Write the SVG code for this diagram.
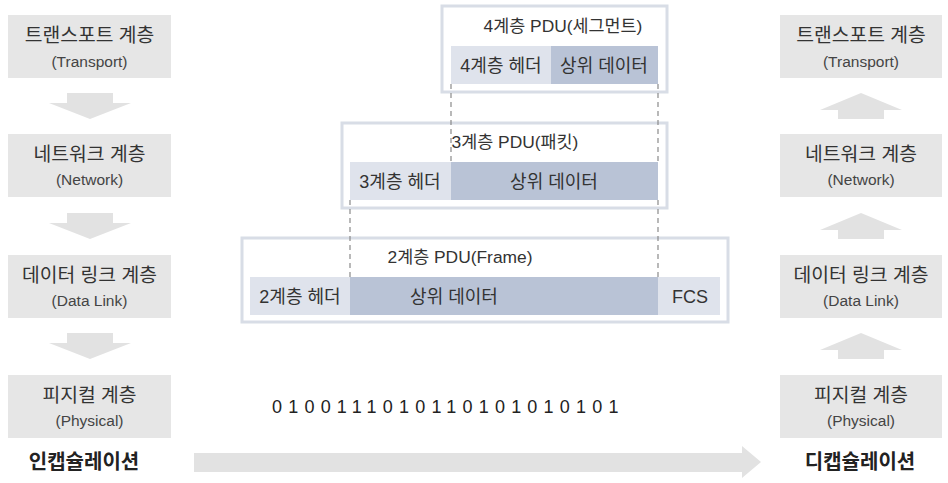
<svg xmlns="http://www.w3.org/2000/svg" width="948" height="483" viewBox="0 0 948 483">
<defs>
<style>
.layer{fill:#e6e6e6}
.arr{fill:#e2e2e2}
.kt{font-family:"Liberation Sans","Noto Sans CJK KR",sans-serif;font-size:19.3px;fill:#333;text-anchor:middle}
.et{font-family:"Liberation Sans","Noto Sans CJK KR",sans-serif;font-size:15.5px;fill:#444;text-anchor:middle}
.pt{font-family:"Liberation Sans","Noto Sans CJK KR",sans-serif;font-size:18px;fill:#333;text-anchor:middle}
.ptt{font-family:"Liberation Sans","Noto Sans CJK KR",sans-serif;font-size:17.4px;fill:#333;text-anchor:middle}
.lab{font-family:"Liberation Sans","Noto Sans CJK KR",sans-serif;font-size:20px;font-weight:bold;fill:#222;text-anchor:middle}
.outer{fill:#fff;stroke:#d8dde6;stroke-width:3}
.hdr{fill:#dfe3ec}
.dat{fill:#b9c3d6}
.dash{stroke:#8a8a8a;stroke-width:1.2;stroke-dasharray:5 4;fill:none}
</style>
</defs>
<rect width="948" height="483" fill="#fff"/>

<g id="enc-transport"><rect class="layer" x="8" y="15" width="163" height="63"/><text class="kt" x="89.5" y="42">트랜스포트 계층</text><text class="et" x="89.5" y="67">(Transport)</text></g>
<g id="enc-network"><rect class="layer" x="8" y="134" width="163" height="63"/><text class="kt" x="89.5" y="161">네트워크 계층</text><text class="et" x="89.5" y="185">(Network)</text></g>
<g id="enc-datalink"><rect class="layer" x="8" y="255" width="163" height="63"/><text class="kt" x="89.5" y="282">데이터 링크 계층</text><text class="et" x="89.5" y="306">(Data Link)</text></g>
<g id="enc-physical"><rect class="layer" x="8" y="375" width="163" height="63"/><text class="kt" x="89.5" y="402">피지컬 계층</text><text class="et" x="89.5" y="426">(Physical)</text></g>
<g id="enc-label"><text class="lab" x="84" y="469">인캡슐레이션</text></g>

<g id="dec-transport"><rect class="layer" x="780" y="15" width="162" height="63"/><text class="kt" x="861" y="42">트랜스포트 계층</text><text class="et" x="861" y="67">(Transport)</text></g>
<g id="dec-network"><rect class="layer" x="780" y="134" width="162" height="63"/><text class="kt" x="861" y="161">네트워크 계층</text><text class="et" x="861" y="185">(Network)</text></g>
<g id="dec-datalink"><rect class="layer" x="780" y="255" width="162" height="63"/><text class="kt" x="861" y="282">데이터 링크 계층</text><text class="et" x="861" y="306">(Data Link)</text></g>
<g id="dec-physical"><rect class="layer" x="780" y="375" width="162" height="63"/><text class="kt" x="861" y="402">피지컬 계층</text><text class="et" x="861" y="426">(Physical)</text></g>
<g id="dec-label"><text class="lab" x="860" y="469">디캡슐레이션</text></g>

<g id="pdu4">
<rect class="outer" x="442" y="6" width="225" height="86"/>
<text class="ptt" x="563" y="32">4계층 PDU(세그먼트)</text>
<rect class="hdr" x="451" y="46" width="100" height="38"/>
<rect class="dat" x="551" y="46" width="107" height="38"/>
<text class="pt" x="501" y="72">4계층 헤더</text>
<text class="pt" x="604" y="72">상위 데이터</text>
</g>
<g id="pdu3">
<rect class="outer" x="342" y="123" width="325" height="85"/>
<text class="ptt" x="515" y="148">3계층 PDU(패킷)</text>
<rect class="hdr" x="350" y="162" width="101" height="38"/>
<rect class="dat" x="451" y="162" width="207" height="38"/>
<text class="pt" x="400" y="188">3계층 헤더</text>
<text class="pt" x="554" y="188">상위 데이터</text>
</g>
<g id="pdu2">
<rect class="outer" x="242" y="238" width="486" height="84"/>
<text class="ptt" x="460" y="263">2계층 PDU(Frame)</text>
<rect class="hdr" x="250" y="277" width="100" height="38"/>
<rect class="dat" x="350" y="277" width="308" height="38"/>
<rect class="hdr" x="658" y="277" width="62" height="38"/>
<text class="pt" x="300" y="303">2계층 헤더</text>
<text class="pt" x="454" y="303">상위 데이터</text>
<text class="pt" x="690" y="303">FCS</text>
</g>
<g id="bits">
<text x="272" y="413" style="font-family:'Liberation Sans',sans-serif;font-size:18px;fill:#222;letter-spacing:6.2px">0100111010110101010101</text>
</g>

<g id="connectors">
<g class="arr">
<polygon points="67,93 113,93 113,103 131,103 90,119 49,103 67,103"/>
<polygon points="67,213 113,213 113,223 131,223 90,239 49,223 67,223"/>
<polygon points="67,333 113,333 113,343 131,343 90,359 49,343 67,343"/>
<polygon points="838,119 884,119 884,110 902,110 861,93 820,110 838,110"/>
<polygon points="838,239 884,239 884,230 902,230 861,213 820,230 838,230"/>
<polygon points="838,359 884,359 884,350 902,350 861,333 820,350 838,350"/>
<polygon points="194,453 742,453 742,446 761,462 742,478 742,472 194,472"/>
</g>
<line class="dash" x1="451" y1="84" x2="451" y2="162"/>
<line class="dash" x1="658" y1="84" x2="658" y2="162"/>
<line class="dash" x1="350" y1="200" x2="350" y2="277"/>
<line class="dash" x1="658" y1="200" x2="658" y2="277"/>
</g>
</svg>
